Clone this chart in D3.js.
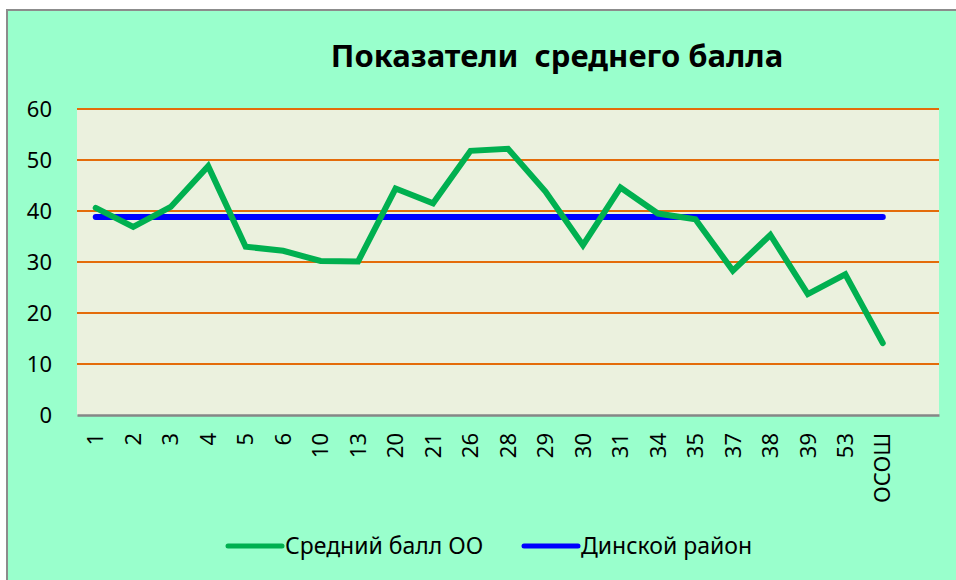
<!DOCTYPE html>
<html>
<head>
<meta charset="utf-8">
<script src="https://cdn.jsdelivr.net/npm/d3@7/dist/d3.min.js"></script>
<style>
  html, body { margin: 0; padding: 0; background: #fff; }
  svg { display: block; font-family: "Noto Sans", "Open Sans", sans-serif; }
</style>
</head>
<body>
<svg id="chart" width="956" height="580"></svg>
<script>
// school numbers along the x axis
var categories = ["1", "2", "3", "4", "5", "6", "10", "13", "20", "21", "26", "28",
  "29", "30", "31", "34", "35", "37", "38", "39", "53", "ОСОШ"];
// average score per school
var schoolScores = [40.6, 36.9, 40.8, 48.8, 33.0, 32.2, 30.2, 30.1, 44.4, 41.5, 51.8, 52.2,
  43.8, 33.3, 44.6, 39.5, 38.4, 28.3, 35.3, 23.7, 27.6, 14.1];
// district average, same for every school
var districtScores = categories.map(function() { return 38.8; });
var yTicks = [0, 10, 20, 30, 40, 50, 60];
var seriesNames = ["Средний балл ОО", "Динской район"];

var svg = d3.select("#chart");
var plot = { left: 77, top: 109, right: 939, bottom: 415 };

// outer chart area with its grey frame (right and bottom edges run off the picture)
svg.append("rect")
  .attr("x", 7).attr("y", 10)
  .attr("width", 960).attr("height", 580)
  .attr("fill", "#99FFCC")
  .attr("stroke", "#8c8c8c")
  .attr("stroke-width", 2);

svg.append("rect")
  .attr("x", plot.left).attr("y", plot.top)
  .attr("width", plot.right - plot.left).attr("height", plot.bottom - plot.top)
  .attr("fill", "#EBF1DE");

// one empty slot at the end, as in the original
var x = d3.scaleBand()
  .domain(categories.concat([" "]))
  .range([plot.left, plot.right]);

var y = d3.scaleLinear()
  .domain([0, 60])
  .range([plot.bottom, plot.top]);

var cx = function(d, i) { return x(categories[i]) + x.bandwidth() / 2; };

// horizontal grid
svg.append("g")
  .selectAll("line")
  .data(yTicks.filter(function(t) { return t > 0; }))
  .enter()
  .append("line")
  .attr("x1", plot.left).attr("x2", plot.right)
  .attr("y1", function(d) { return y(d); })
  .attr("y2", function(d) { return y(d); })
  .attr("stroke", "#E46C0A")
  .attr("stroke-width", 2);

// y axis labels
var yAxis = d3.axisLeft(y).tickValues(yTicks).tickSize(0).tickPadding(0);
var gy = svg.append("g")
  .attr("transform", "translate(52,0)")
  .call(yAxis);
gy.select(".domain").remove();
gy.selectAll("text")
  .attr("font-size", 22)
  .attr("font-family", "Noto Sans")
  .attr("fill", "#000");

// x axis
var xAxis = d3.axisBottom(x).tickSize(0).tickPadding(0);
var gx = svg.append("g")
  .attr("transform", "translate(0," + plot.bottom + ")")
  .call(xAxis);
gx.select(".domain")
  .attr("stroke", "#868686")
  .attr("stroke-width", 2.5);
gx.selectAll("text")
  .attr("font-size", 22)
  .attr("font-family", "Noto Sans")
  .attr("fill", "#000")
  .attr("text-anchor", "end")
  .attr("dy", "0.35em")
  .attr("transform", "translate(0,18) rotate(-90)")
  .attr("x", 0).attr("y", 0);

// series lines
var line = d3.line()
  .x(cx)
  .y(function(d) { return y(d); });

svg.append("path")
  .datum(districtScores)
  .attr("d", line)
  .attr("fill", "none")
  .attr("stroke", "#0000FF")
  .attr("stroke-width", 6)
  .attr("stroke-linecap", "round");

svg.append("path")
  .datum(schoolScores)
  .attr("d", line)
  .attr("fill", "none")
  .attr("stroke", "#00B050")
  .attr("stroke-width", 6)
  .attr("stroke-linejoin", "miter")
  .attr("stroke-linecap", "round");

// title
svg.append("text")
  .attr("x", 557).attr("y", 67)
  .attr("text-anchor", "middle")
  .attr("font-size", 31)
  .attr("font-weight", "bold")
  .attr("xml:space", "preserve")
  .style("white-space", "pre")
  .text("Показатели  среднего балла");

// legend
var legendColors = ["#00B050", "#0000FF"];
var legendX = [228, 524];
var lg = svg.append("g").selectAll("g")
  .data(seriesNames)
  .enter()
  .append("g")
  .attr("transform", function(d, i) { return "translate(" + legendX[i] + ",546)"; });
lg.append("line")
  .attr("x1", 0).attr("x2", 54)
  .attr("stroke", function(d, i) { return legendColors[i]; })
  .attr("stroke-width", 5)
  .attr("stroke-linecap", "round");
lg.append("text")
  .attr("x", 57).attr("dy", "0.35em")
  .attr("font-size", 23)
  .text(function(d) { return d; });
</script>
</body>
</html>
